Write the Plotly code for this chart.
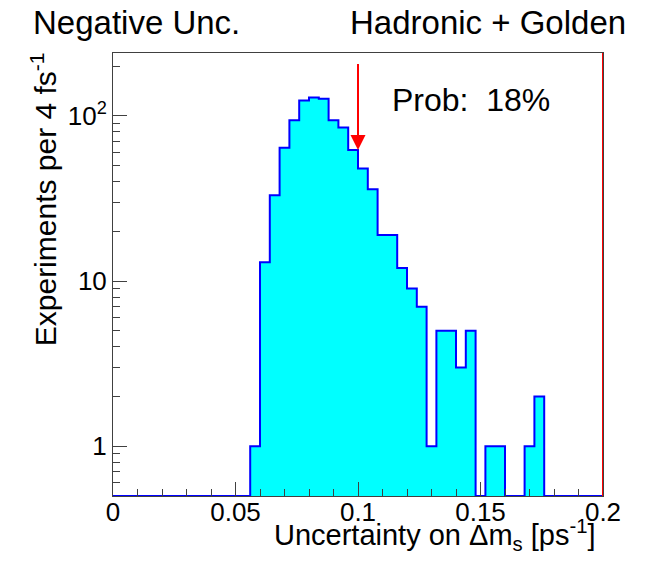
import numpy as np
import plotly.graph_objects as go

# Histogram binning (4 fs^-1 = 0.004 ps^-1 per bin)
BIN_WIDTH = 0.004
X_MIN, X_MAX = 0.0, 0.2
bin_edges = np.round(np.arange(X_MIN, X_MAX + BIN_WIDTH / 2, BIN_WIDTH), 6)
bin_centers = (bin_edges[:-1] + bin_edges[1:]) / 2

# Experiments per bin
counts = [0] * 14 + [
    1, 13, 33, 64, 94, 124, 129, 127, 94, 85,
    62, 48, 36, 19, 19, 12, 9, 7, 1, 5,
    5, 3, 5, 0, 1, 1, 0, 0, 1, 2,
] + [0] * 6

# Observed uncertainty and arrow extent
OBSERVED = 0.1
ARROW_TIP = 62
ARROW_TAIL = 210
PROB_TEXT = "Prob:\u00a0\u00a018%"

# Axis limits
Y_FLOOR = 0.5
Y_TOP = 240

x_major = [0, 0.05, 0.1, 0.15, 0.2]
x_major_text = ["0", "0.05", "0.1", "0.15", "0.2"]
x_minor = [round(v, 3) for v in np.arange(0.01, 0.2, 0.01)]
y_major = [1, 10, 100]
y_major_text = ["1", "10", "10<sup>2</sup>"]
y_minor = [0.6, 0.7, 0.8, 0.9] + list(range(2, 10)) + list(range(20, 100, 10)) + [200]

FONT = "Liberation Sans, Arial, Helvetica, sans-serif"
FILL = "#00ffff"
EDGE = "#0000ff"
AXIS = "#404040"

fig = go.Figure()

# Filled bins
fig.add_trace(go.Bar(
    x=bin_centers,
    y=[c if c > 0 else None for c in counts],
    width=BIN_WIDTH,
    marker=dict(color=FILL, line=dict(width=0)),
    hoverinfo="skip",
))

# Histogram outline; empty bins run along the bottom of the frame
outline_y = [c if c > 0 else Y_FLOOR for c in counts]
fig.add_trace(go.Scatter(
    x=bin_edges,
    y=outline_y + [outline_y[-1]],
    mode="lines",
    line=dict(color=EDGE, width=2, shape="hv"),
    hoverinfo="skip",
))

# Red line at the upper edge of the range
fig.add_shape(type="line", xref="x", yref="y domain",
              x0=X_MAX, x1=X_MAX, y0=0, y1=1,
              line=dict(color="#ff0000", width=2))

annotations = [
    # observed value arrow
    dict(x=OBSERVED, y=np.log10(ARROW_TIP), xref="x", yref="y",
         ax=OBSERVED, ay=np.log10(ARROW_TAIL), axref="x", ayref="y",
         showarrow=True, arrowhead=2, arrowsize=1.5, arrowwidth=2,
         arrowcolor="#ff0000", text=""),
    dict(x=0.565, y=0.893, xref="paper", yref="paper", xanchor="left",
         yanchor="middle", text=PROB_TEXT, showarrow=False,
         font=dict(family=FONT, size=32, color="black")),
    dict(x=-0.167, y=1.069, xref="paper", yref="paper", xanchor="left",
         yanchor="middle", text="Negative Unc.", showarrow=False,
         font=dict(family=FONT, size=33, color="black")),
    dict(x=1.051, y=1.069, xref="paper", yref="paper", xanchor="right",
         yanchor="middle", text="Hadronic + Golden", showarrow=False,
         font=dict(family=FONT, size=33, color="black")),
    dict(x=0.99, y=-0.089, xref="paper", yref="paper", xanchor="right",
         yanchor="middle", text="Uncertainty on \u0394m<sub>s</sub> [ps<sup>-1</sup>]",
         showarrow=False, font=dict(family=FONT, size=29, color="black")),
    dict(x=-0.141, y=1.006, xref="paper", yref="paper", xanchor="center",
         yanchor="top", textangle=-90, text="Experiments per 4 fs<sup>-1</sup>",
         showarrow=False, font=dict(family=FONT, size=30, color="black")),
]

fig.update_layout(
    width=650, height=566,
    margin=dict(l=113, r=47, t=53, b=70),
    paper_bgcolor="white", plot_bgcolor="white",
    showlegend=False, bargap=0,
    font=dict(family=FONT, color="black"),
    annotations=annotations,
    xaxis=dict(
        range=[X_MIN, X_MAX], tickmode="array", tickvals=x_major, ticktext=x_major_text,
        ticks="inside", ticklen=14, tickwidth=1, tickcolor=AXIS,
        ticklabelstandoff=-7,
        minor=dict(tickmode="array", tickvals=x_minor, ticks="inside",
                   ticklen=7, tickwidth=1, tickcolor=AXIS, showgrid=False),
        showline=True, linecolor=AXIS, linewidth=1, mirror=True,
        showgrid=False, zeroline=False,
        tickfont=dict(family=FONT, size=26, color="black"),
    ),
    yaxis=dict(
        type="log", range=[np.log10(Y_FLOOR), np.log10(Y_TOP)],
        tickmode="array", tickvals=y_major, ticktext=y_major_text,
        ticks="inside", ticklen=14, tickwidth=1, tickcolor=AXIS,
        minor=dict(tickmode="array", tickvals=y_minor, ticks="inside",
                   ticklen=7, tickwidth=1, tickcolor=AXIS, showgrid=False),
        showline=True, linecolor=AXIS, linewidth=1, mirror=True,
        showgrid=False, zeroline=False,
        tickfont=dict(family=FONT, size=26, color="black"),
    ),
)

fig.write_html("out.html")
